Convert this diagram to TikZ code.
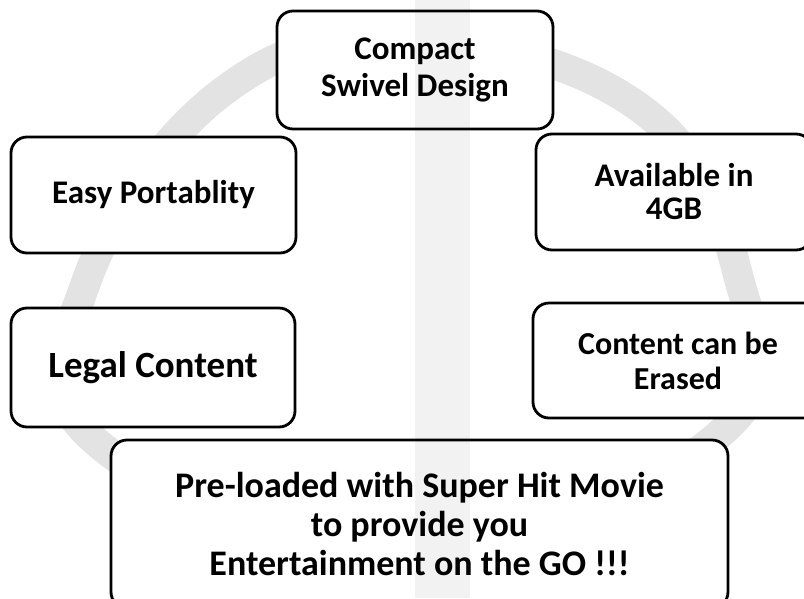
\documentclass[tikz,border=0pt]{standalone}
\usepackage{fontspec}
\setmainfont{Carlito}
\usetikzlibrary{calc}
\tikzset{
  feat/.style={draw=black, line width=2.8pt, rounded corners=16pt, fill=white,
    align=center, inner sep=0pt, font=\bfseries, text=black},
  ringband/.style={draw=black!11, line width=30pt},
}
\begin{document}
\begin{tikzpicture}[x=1pt,y=-1pt]
\clip (0,0) rectangle (804,598);
\fill[white] (0,0) rectangle (804,598);
% background ring
\draw[ringband] plot[smooth cycle, tension=0.7] coordinates
  {(85,285) (225,90) (415,40) (640,108) (738,275) (722,432) (415,560) (100,445)};
% boxes
\node[feat, minimum width=276pt, minimum height=118pt,
  font=\bfseries\fontsize{33}{37}\selectfont] (compact) at (415,70) {Compact\\Swivel Design};
\node[feat, minimum width=285pt, minimum height=116pt,
  font=\bfseries\fontsize{33}{37}\selectfont] (easy) at (153.5,195) {Easy Portablity};
\node[feat, minimum width=276pt, minimum height=116pt,
  font=\bfseries\fontsize{33}{33}\selectfont] (avail) at (674,192) {Available in\\4GB};
\node[feat, minimum width=284pt, minimum height=119pt,
  font=\bfseries\fontsize{37}{40}\selectfont] (legal) at (153,367.5) {Legal Content};
\node[feat, minimum width=290pt, minimum height=115pt,
  font=\bfseries\fontsize{32}{35}\selectfont] (content) at (678,360.5) {Content can be\\Erased};
\node[feat, minimum width=617pt, minimum height=168pt,
  font=\bfseries\fontsize{36}{39}\selectfont] (preload) at (419.5,524)
  {Pre-loaded with Super Hit Movie\\to provide you\\Entertainment on the GO !!!};
% faint central vertical band
\fill[black, opacity=0.05] (415,0) rectangle (470,598);
\end{tikzpicture}
\end{document}
